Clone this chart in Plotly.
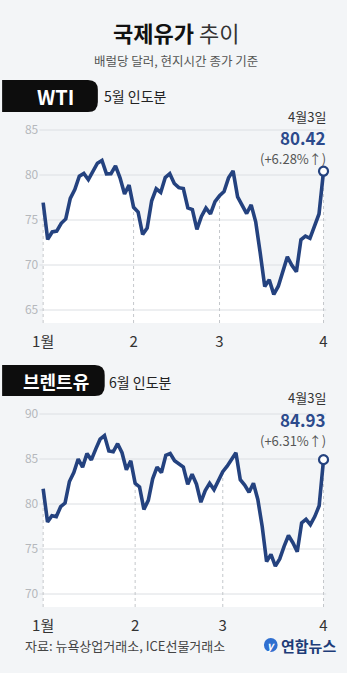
import plotly.graph_objects as go
import pandas as pd

W, H = 347, 673
FONT = "Noto Sans CJK KR"

# ---------------- data ----------------
bdays = pd.bdate_range("2023-01-03", "2023-04-03")
us_holidays = ["2023-01-16", "2023-02-20"]
wti_dates = [d.strftime("%Y-%m-%d") for d in bdays if d.strftime("%Y-%m-%d") not in us_holidays]
brent_dates = [d.strftime("%Y-%m-%d") for d in bdays]

wti_values = [76.93, 72.84, 73.67, 73.77, 74.63, 75.12, 77.41, 78.39, 79.86, 80.18,
              79.48, 80.33, 81.31, 81.62, 80.13, 80.15, 81.01, 79.68, 77.90, 78.87,
              76.41, 75.88, 73.39, 74.11, 77.14, 78.47, 78.06, 79.72, 80.14, 79.06,
              78.59, 78.49, 76.34, 76.16, 73.95, 75.39, 76.32, 75.68, 77.05,
              77.69, 78.16, 79.68, 80.46, 77.58, 76.66, 75.72, 76.68, 74.80, 71.33,
              67.61, 68.35, 66.74, 67.64, 69.33, 70.90, 69.96, 69.26, 72.81, 73.20,
              72.97, 74.37, 75.67,
              80.42]

brent_values = [81.7, 78.0, 78.7, 78.6, 79.7, 80.1, 82.5, 83.5, 85.0, 84.1,
                85.6, 84.9, 86.1, 87.2, 87.6, 85.9, 85.8, 86.7, 85.7, 83.8, 84.8,
                82.3, 81.9, 79.4, 80.4, 82.8, 84.1, 83.5, 85.4, 85.6, 84.8,
                84.5, 84.1, 82.2, 83.3, 82.2, 80.2, 81.5, 82.3, 81.6, 82.7,
                83.6, 84.2, 85.0, 85.7, 82.7, 82.1, 81.3, 82.3, 80.5, 77.5,
                73.6, 74.4, 73.1, 73.9, 75.3, 76.5, 75.7, 74.7, 77.9, 78.3,
                77.7, 78.6, 79.8,
                84.93]

wti_yticks = [65, 70, 75, 80, 85]
brent_yticks = [70, 75, 80, 85, 90]
month_labels = ["1월", "2", "3", "4"]

wti_last = {"date": "4월3일", "value": "80.42", "change": "(+6.28%↑)"}
brent_last = {"date": "4월3일", "value": "84.93", "change": "(+6.31%↑)"}

# ---------------- styling ----------------
BG = "#f3f5f7"
LINE = "#24427f"
GRID = "#dcdfe3"
DOT = "#c4c7cb"


def px_x(x):
    return x / W


def px_y(y):
    return 1 - y / H


fig = go.Figure()

# plot geometry in pixels
X_LEFT, X_RIGHT = 33, 327          # plot area edges
X_FIRST, X_LAST = 37, 324          # first / last data point pixel


def add_panel(values, dates, yticks, xname, yname, top_px, bottom_px, ref_val, ref_px):
    n = len(values)
    step = (X_LAST - X_FIRST) / (n - 1)
    xr0 = -(X_FIRST - X_LEFT) / step
    xr1 = (n - 1) + (X_RIGHT - X_LAST) / step
    ppu = 9.0
    yr0 = ref_val - (bottom_px - ref_px) / ppu
    yr1 = ref_val + (ref_px - top_px) / ppu
    idx = list(range(n))
    # first index of each month
    month_idx = []
    seen = set()
    for i, d in enumerate(dates):
        m = d[:7]
        if m not in seen:
            seen.add(m)
            month_idx.append(i)
    xa = xname.replace("xaxis", "x")
    ya = yname.replace("yaxis", "y")
    # white fill under the line
    fig.add_trace(go.Scatter(x=idx, y=values, mode="lines", line=dict(width=0),
                             fill="tozeroy", fillcolor="white", hoverinfo="skip",
                             showlegend=False, xaxis=xa, yaxis=ya))
    # horizontal grid lines
    for t in yticks:
        fig.add_trace(go.Scatter(x=[xr0, xr1], y=[t, t], mode="lines",
                                 line=dict(color=GRID, width=1), hoverinfo="skip",
                                 showlegend=False, xaxis=xa, yaxis=ya))
    # dotted month lines under the curve
    for i in month_idx:
        fig.add_trace(go.Scatter(x=[i, i], y=[yr0, values[i]], mode="lines",
                                 line=dict(color=DOT, width=1, dash="dot"), hoverinfo="skip",
                                 showlegend=False, xaxis=xa, yaxis=ya))
    # main line
    fig.add_trace(go.Scatter(x=idx, y=values, mode="lines",
                             line=dict(color=LINE, width=3.6, shape="linear"),
                             showlegend=False, xaxis=xa, yaxis=ya))
    # end marker
    fig.add_trace(go.Scatter(x=[idx[-1]], y=[values[-1]], mode="markers",
                             marker=dict(size=9, color="white", line=dict(color=LINE, width=2.2)),
                             showlegend=False, xaxis=xa, yaxis=ya, cliponaxis=False))
    dom_x = [px_x(X_LEFT), px_x(X_RIGHT)]
    dom_y = [px_y(bottom_px), px_y(top_px)]
    fig.update_layout({
        xname: dict(domain=dom_x, range=[xr0, xr1], showgrid=False, zeroline=False,
                    showline=False, tickmode="array", tickvals=month_idx,
                    ticktext=month_labels, ticks="outside", ticklen=5,
                    tickcolor="rgba(0,0,0,0)",
                    tickfont=dict(family=FONT, size=15, color="#333333"),
                    anchor=ya, fixedrange=True),
        yname: dict(domain=dom_y, range=[yr0, yr1], showgrid=False, zeroline=False,
                    showline=False, tickmode="array", tickvals=yticks,
                    ticks="", tickfont=dict(family=FONT, size=12, color="#b5b8bc"),
                    anchor=xa, fixedrange=True),
    })


add_panel(wti_values, wti_dates, wti_yticks, "xaxis", "yaxis", 118, 323, 80, 175)
add_panel(brent_values, brent_dates, brent_yticks, "xaxis2", "yaxis2", 404, 607, 85, 459)

annotations = []


def ann(text, x, y, size, color="#222", xanchor="center", bold=False):
    annotations.append(dict(text=(f"<b>{text}</b>" if bold else text),
                            x=px_x(x), y=px_y(y), xref="paper", yref="paper",
                            xanchor=xanchor, yanchor="middle", showarrow=False,
                            borderpad=0,
                            font=dict(family=FONT, size=size, color=color)))


# title & subtitle
ann("<b>국제유가</b> <span style='color:#333'>추이</span>", 173, 32, 22, "#111")
ann("배럴당 달러, 현지시간 종가 기준", 173, 60, 12.5, "#555")

# badges
shapes = []


def badge(x1, y0, y1, r=10):
    path = (f"M {px_x(-5)},{px_y(y0)} L {px_x(x1 - r)},{px_y(y0)} "
            f"Q {px_x(x1)},{px_y(y0)} {px_x(x1)},{px_y(y0 + r)} "
            f"L {px_x(x1)},{px_y(y1 - r)} "
            f"Q {px_x(x1)},{px_y(y1)} {px_x(x1 - r)},{px_y(y1)} "
            f"L {px_x(-5)},{px_y(y1)} Z")
    shapes.append(dict(type="path", path=path, xref="paper", yref="paper",
                       fillcolor="#0d0d0d", line=dict(width=0), layer="above"))


badge(93, 80, 112)
ann("<b>WTI</b>", 50, 96.5, 20, "white")
ann("5월 인도분", 98, 96.5, 14, "#222", xanchor="left")

badge(100, 365, 396)
ann("<b>브렌트유</b>", 50, 381, 18, "white")
ann("6월 인도분", 103, 381.5, 14, "#222", xanchor="left")

# end annotations
for d, ys in ((wti_last, (116, 138, 158.5)), (brent_last, (397.5, 419.5, 440.5))):
    ann(d["date"], 328, ys[0], 13, "#333", xanchor="right")
    ann(d["value"], 328, ys[1], 17, "#2c4a8c", xanchor="right", bold=True)
    ann(d["change"], 328, ys[2], 13, "#555", xanchor="right")

# footer
ann("자료: 뉴욕상업거래소, ICE선물거래소", 17, 645, 13, "#444", xanchor="left")
shapes.append(dict(type="circle", xref="paper", yref="paper",
                   x0=px_x(263), x1=px_x(277), y0=px_y(652), y1=px_y(638),
                   fillcolor="#2f6fd0", line=dict(width=0)))
ann("<i><b>y</b></i>", 270, 644.5, 11, "white")
ann("<b>연합뉴스</b>", 279, 645, 15, "#1d3c78", xanchor="left")

fig.update_layout(width=W, height=H, margin=dict(l=0, r=0, t=0, b=0),
                  paper_bgcolor=BG, plot_bgcolor=BG, showlegend=False,
                  annotations=annotations, shapes=shapes,
                  font=dict(family=FONT))

fig.write_html("out.html", config={"displayModeBar": False})
